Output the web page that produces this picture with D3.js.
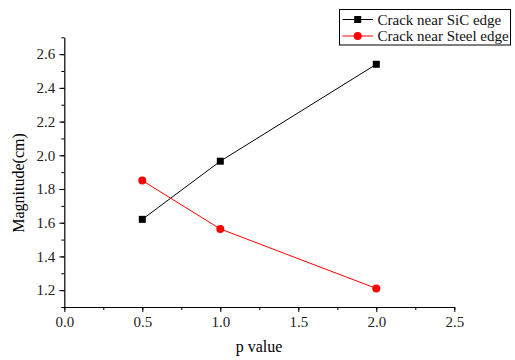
<!DOCTYPE html>
<html><head><meta charset="utf-8">
<script src="https://cdn.jsdelivr.net/npm/d3@7"></script>
<style>body{margin:0;background:#fff}svg{display:block}svg text{font-family:"Liberation Serif","Times New Roman",serif !important}</style>
</head><body>
<svg id="c" width="515" height="360"></svg>
<script>
const pValues = [0.5, 1.0, 2.0];
const sicValues = [1.62, 1.965, 2.54];
const steelValues = [1.85, 1.563, 1.21];
const seriesNames = ["Crack near SiC edge", "Crack near Steel edge"];
const xTicks = [0.0, 0.5, 1.0, 1.5, 2.0, 2.5];
const yTicks = [1.2, 1.4, 1.6, 1.8, 2.0, 2.2, 2.4, 2.6];

const FONT = "'Liberation Serif','Times New Roman',serif";
const svg = d3.select("#c");
const m = {l:64.3, r:454.3, t:37.3, b:307};
const x = d3.scaleLinear().domain([0, 2.5]).range([m.l, m.r]);
const y = d3.scaleLinear().domain([1.1, 2.7]).range([m.b, m.t]);

// minor ticks
const xMinor = d3.range(0, 2.5001, 0.25);
const yMinor = d3.range(1.1, 2.7001, 0.1);
const gx = svg.append("g").attr("transform", `translate(0,${m.b})`);
gx.call(d3.axisBottom(x).tickValues(xMinor).tickSize(3).tickFormat(""));
gx.select(".domain").remove();
const gx2 = svg.append("g").attr("transform", `translate(0,${m.b})`)
  .call(d3.axisBottom(x).tickValues(xTicks).tickSize(5).tickSizeOuter(0).tickPadding(4).tickFormat(d3.format(".1f")));
gx2.attr("font-family", FONT).attr("font-size", 15);
gx2.selectAll("text").attr("fill","#222").style("font-family", FONT);

const gy = svg.append("g").attr("transform", `translate(${m.l},0)`);
gy.call(d3.axisLeft(y).tickValues(yMinor).tickSize(3).tickFormat(""));
gy.select(".domain").remove();
const gy2 = svg.append("g").attr("transform", `translate(${m.l},0)`)
  .call(d3.axisLeft(y).tickValues(yTicks).tickSize(5).tickSizeOuter(0).tickPadding(4).tickFormat(d3.format(".1f")));
gy2.attr("font-family", FONT).attr("font-size", 15);
gy2.selectAll("text").attr("fill","#222").style("font-family", FONT);
svg.selectAll(".domain").attr("stroke","#000").attr("stroke-width",1.2);

// axis titles
svg.append("text").attr("x", 259).attr("y", 352).attr("text-anchor","middle").attr("font-size",16).text("p value");
svg.append("text").attr("transform","translate(24,183) rotate(-90)").attr("text-anchor","middle").attr("font-size",16).text("Magnitude(cm)");

const line = d3.line().x((d,i)=>x(pValues[i])).y(d=>y(d));
svg.append("path").datum(sicValues).attr("d", line).attr("fill","none").attr("stroke","#000").attr("stroke-width",1);
svg.append("path").datum(steelValues).attr("d", line).attr("fill","none").attr("stroke","#f00").attr("stroke-width",1);

svg.selectAll(".sq").data(sicValues).join("rect")
  .attr("x",(d,i)=>x(pValues[i])-3.5).attr("y",d=>y(d)-3.5).attr("width",7).attr("height",7).attr("fill","#000");
svg.selectAll(".ci").data(steelValues).join("circle")
  .attr("cx",(d,i)=>x(pValues[i])).attr("cy",d=>y(d)).attr("r",4).attr("fill","#f00");

// legend
const lg = svg.append("g");
lg.append("rect").attr("x",339.5).attr("y",9.5).attr("width",171).attr("height",35.5).attr("fill","#fff").attr("stroke","#000").attr("stroke-width",1);
const rows = [{y:19.5, c:"#000", t:"sq"}, {y:36, c:"#f00", t:"ci"}];
rows.forEach((r,i)=>{
  lg.append("line").attr("x1",342.5).attr("x2",373).attr("y1",r.y).attr("y2",r.y).attr("stroke",r.c).attr("stroke-width",1);
  if(r.t==="sq") lg.append("rect").attr("x",357.7-3.5).attr("y",r.y-3.5).attr("width",7).attr("height",7).attr("fill",r.c);
  else lg.append("circle").attr("cx",357.7).attr("cy",r.y).attr("r",4).attr("fill",r.c);
  lg.append("text").attr("x",377.5).attr("y",r.y+5).attr("font-size",15).attr("fill","#111").text(seriesNames[i]);
});
</script>
</body></html>
